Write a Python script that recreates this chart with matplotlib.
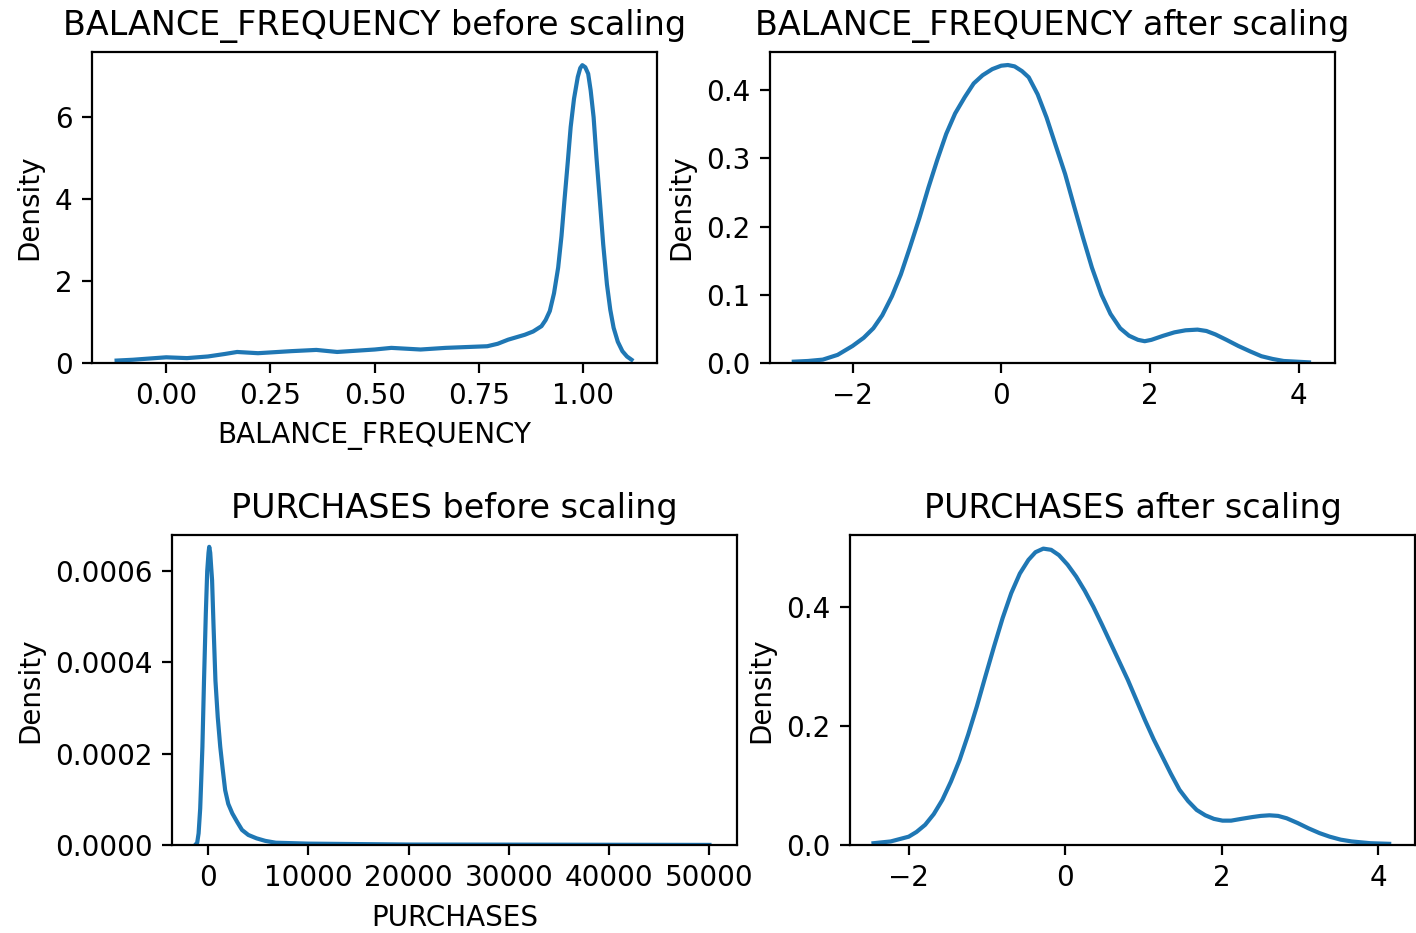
import matplotlib
matplotlib.use("Agg")
import matplotlib.pyplot as plt

# values (kde curves)
bf_before_x = [-0.119, -0.08, -0.04, 0.0, 0.05, 0.10, 0.14, 0.17, 0.22, 0.30, 0.36, 0.41,
               0.50, 0.54, 0.61, 0.67, 0.77, 0.795, 0.82, 0.84, 0.86, 0.88, 0.90, 0.91,
               0.92, 0.93, 0.94, 0.948, 0.955, 0.963, 0.97, 0.978, 0.987, 0.993, 0.998,
               1.005, 1.012, 1.018, 1.025, 1.032, 1.04, 1.048, 1.057, 1.065, 1.073, 1.083,
               1.094, 1.105, 1.116]
bf_before_y = [0.06, 0.08, 0.11, 0.14, 0.12, 0.16, 0.22, 0.27, 0.24, 0.29, 0.32, 0.27,
               0.33, 0.37, 0.33, 0.37, 0.41, 0.47, 0.57, 0.63, 0.69, 0.77, 0.90, 1.05,
               1.27, 1.70, 2.33, 3.10, 3.96, 4.90, 5.76, 6.45, 6.98, 7.20, 7.27,
               7.22, 7.06, 6.65, 6.00, 5.00, 3.96, 2.90, 1.92, 1.30, 0.86, 0.52,
               0.29, 0.16, 0.08]

bf_after_x = [-2.79, -2.6, -2.4, -2.2, -2.0, -1.85, -1.72, -1.6, -1.47, -1.35, -1.23, -1.1,
              -0.98, -0.86, -0.74, -0.62, -0.49, -0.37, -0.25, -0.12, 0.0, 0.09, 0.18, 0.28,
              0.37, 0.49, 0.61, 0.73, 0.86, 0.98, 1.10, 1.22, 1.35, 1.47, 1.6, 1.72, 1.84,
              1.93, 2.02, 2.18, 2.33, 2.48, 2.64, 2.76, 2.88, 3.03, 3.19, 3.35, 3.5, 3.65,
              3.8, 3.97, 4.14]
bf_after_y = [0.002, 0.003, 0.005, 0.012, 0.025, 0.037, 0.051, 0.070, 0.098, 0.130, 0.169,
              0.213, 0.257, 0.298, 0.336, 0.366, 0.390, 0.410, 0.422, 0.431, 0.436, 0.437,
              0.435, 0.428, 0.419, 0.394, 0.360, 0.320, 0.277, 0.230, 0.184, 0.140, 0.100,
              0.072, 0.051, 0.040, 0.034, 0.032, 0.034, 0.040, 0.045, 0.048, 0.049, 0.047,
              0.042, 0.034, 0.025, 0.017, 0.010, 0.006, 0.003, 0.002, 0.001]

pur_before_x = [-1300, -1100, -960, -800, -700, -580, -420, -240, -100, 30, 100, 200, 290,
                385, 530, 720, 950, 1200, 1450, 1690, 2000, 2400, 2900, 3370, 4000, 4820,
                5700, 6740, 10000, 20000, 30000, 40000, 50000]
pur_before_y = [0.0, 0.000005, 0.0000255, 0.00008, 0.00014, 0.000215, 0.00036, 0.000507,
                0.0006, 0.00064, 0.000653, 0.00064, 0.00061, 0.00058, 0.00048, 0.00036,
                0.00028, 0.000215, 0.000165, 0.00012, 0.00009, 0.0000693, 0.00005,
                0.000033, 0.000022, 0.0000146, 0.000009, 0.000005, 0.000003, 0.000001,
                0.0000008, 0.0000005, 0.0000002]

pur_after_x = [-2.45, -2.23, -2.0, -1.9, -1.79, -1.68, -1.57, -1.46, -1.35, -1.24, -1.13,
               -1.02, -0.91, -0.8, -0.69, -0.58, -0.47, -0.38, -0.28, -0.18, -0.08, 0.03,
               0.14, 0.25, 0.36, 0.47, 0.58, 0.69, 0.80, 0.91, 1.02, 1.13, 1.24, 1.35, 1.46,
               1.57, 1.68, 1.79, 1.9, 2.01, 2.12, 2.25, 2.39, 2.5, 2.61, 2.72, 2.83, 2.97,
               3.11, 3.25, 3.38, 3.52, 3.66, 3.9, 4.14]
pur_after_y = [0.003, 0.006, 0.014, 0.022, 0.034, 0.052, 0.076, 0.107, 0.143, 0.186, 0.233,
               0.284, 0.334, 0.382, 0.424, 0.457, 0.480, 0.493, 0.499, 0.497, 0.488, 0.472,
               0.452, 0.428, 0.401, 0.371, 0.340, 0.309, 0.278, 0.244, 0.210, 0.178, 0.149,
               0.120, 0.093, 0.074, 0.059, 0.050, 0.044, 0.041, 0.041, 0.044, 0.047, 0.049,
               0.050, 0.049, 0.045, 0.037, 0.028, 0.020, 0.014, 0.009, 0.006, 0.003, 0.002]

fig = plt.figure(figsize=(7.08, 4.665), dpi=200)
col = "#1f77b4"

# top left
ax1 = fig.add_axes([0.06497, 0.6109, 0.3990, 0.3333])
ax1.plot(bf_before_x, bf_before_y, color=col, lw=1.5)
ax1.set_xlim(-0.178, 1.177)
ax1.set_ylim(0, 7.59)
ax1.set_xticks([0.0, 0.25, 0.5, 0.75, 1.0])
ax1.set_xticklabels(["0.00", "0.25", "0.50", "0.75", "1.00"])
ax1.set_yticks([0, 2, 4, 6])
ax1.set_title("BALANCE_FREQUENCY before scaling")
ax1.set_xlabel("BALANCE_FREQUENCY")
ax1.set_ylabel("Density")

# top right
ax2 = fig.add_axes([0.5438, 0.6109, 0.3990, 0.3333])
ax2.plot(bf_after_x, bf_after_y, color=col, lw=1.5)
ax2.set_xlim(-3.11, 4.49)
ax2.set_ylim(0, 0.456)
ax2.set_xticks([-2, 0, 2, 4])
ax2.set_yticks([0.0, 0.1, 0.2, 0.3, 0.4])
ax2.set_title("BALANCE_FREQUENCY after scaling")
ax2.set_ylabel("Density")

# bottom left
ax3 = fig.add_axes([0.12147, 0.09432, 0.3990, 0.3323])
ax3.plot(pur_before_x, pur_before_y, color=col, lw=1.5)
ax3.set_xlim(-3613, 52746)
ax3.set_ylim(0, 0.000679)
ax3.set_xticks([0, 10000, 20000, 30000, 40000, 50000])
ax3.set_yticks([0.0, 0.0002, 0.0004, 0.0006])
ax3.set_yticklabels(["0.0000", "0.0002", "0.0004", "0.0006"])
ax3.set_title("PURCHASES before scaling")
ax3.set_xlabel("PURCHASES")
ax3.set_ylabel("Density")

# bottom right
ax4 = fig.add_axes([0.6003, 0.09432, 0.3990, 0.3323])
ax4.plot(pur_after_x, pur_after_y, color=col, lw=1.5)
ax4.set_xlim(-2.75, 4.47)
ax4.set_ylim(0, 0.522)
ax4.set_xticks([-2, 0, 2, 4])
ax4.set_yticks([0.0, 0.2, 0.4])
ax4.set_title("PURCHASES after scaling")
ax4.set_ylabel("Density")

fig.savefig("out.png", dpi=200)
